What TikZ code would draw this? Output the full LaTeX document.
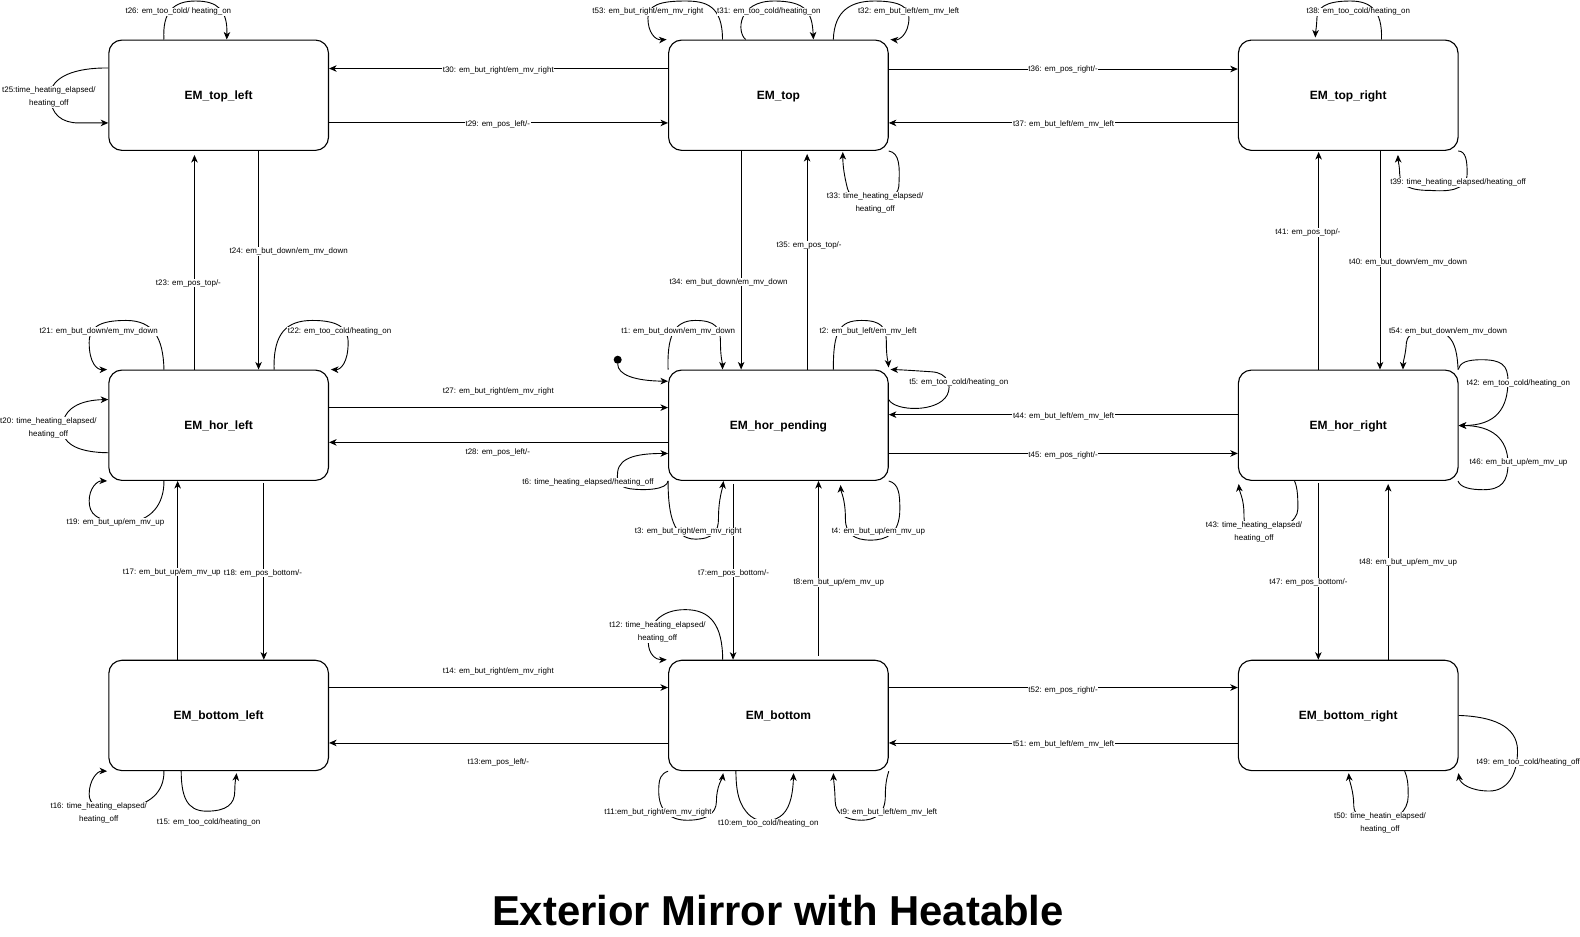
\documentclass[tikz,border=0pt]{standalone}
\usepackage{fontspec}
\setmainfont{Liberation Sans}
\usetikzlibrary{arrows.meta}
\tikzset{
  emstate/.style={draw, line width=1.1pt, rounded corners=13pt, minimum width=218pt, minimum height=109.5pt, inner sep=0pt, text height=8.5pt, text depth=0pt, font=\fontsize{11.9}{14}\selectfont\bfseries},
  edge/.style={line width=0.9pt, -{Stealth[length=7.5pt,width=6.5pt,inset=2.2pt]}},
  lbl/.style={font=\fontsize{7.9}{13}\selectfont, fill=white, inner sep=0.6pt, align=center, yshift=-0.8pt},
}
\begin{document}
\begin{tikzpicture}[x=1pt,y=-1pt]
\useasboundingbox (0,0) rectangle (1568,929);
% states
\node[emstate] (tl) at (217,94.5) {EM\_top\_left};
\node[emstate] (t)  at (772.5,94.5) {EM\_top};
\node[emstate] (tr) at (1338,94.5) {EM\_top\_right};
\node[emstate] (hl) at (217,422) {EM\_hor\_left};
\node[emstate] (hp) at (772.5,422) {EM\_hor\_pending};
\node[emstate] (hr) at (1338,422) {EM\_hor\_right};
\node[emstate] (bl) at (217,710) {EM\_bottom\_left};
\node[emstate] (b)  at (772.5,710) {EM\_bottom};
\node[emstate] (br) at (1338,710) {EM\_bottom\_right};
\node[circle, fill, inner sep=0pt, minimum size=8pt] (init) at (613,357) {};

% ---- top left
\draw[edge] (tl.north -| 162.7,0) .. controls (161,12) and (172,1) .. (194,1) .. controls (216,1) and (226,10) .. (tl.north -| 225,0);
\draw[edge] (tl.west |- 0,67.5) .. controls (75,67) and (50,76) .. (50,95) .. controls (50,114) and (62,122) .. (78,122) -- (tl.west |- 0,122);
\draw[edge] (t.west |- 0,68) -- (tl.east |- 0,68);
\draw[edge] (tl.east |- 0,122) -- (t.west |- 0,122);
\draw[edge] (tl.south -| 256.6,0) -- (hl.north -| 256.6,0);
\draw[edge,shorten >=4pt] (hl.north -| 193,0) -- (tl.south -| 193,0);

% ---- top
\draw[edge] (t.north -| 717,0) .. controls (717,5) and (700,1) .. (680,1) .. controls (655,1) and (643,5) .. (643,18) .. controls (643,32) and (650,40) .. (t.north -| 661.5,0);
\draw[edge] (t.north -| 740,0) .. controls (731,32) and (732,1) .. (768,1) .. controls (800,1) and (806,12) .. (t.north -| 807.2,0);
\draw[edge] (t.north -| 827,0) .. controls (828,10) and (845,1) .. (868,1) .. controls (895,1) and (902,8) .. (902,18) .. controls (902,34) and (892,40) .. (t.north -| 883.7,0);
\draw[edge,shorten >=1pt] (t.south -| 882,0) .. controls (893,152) and (893,165) .. (892,185) .. controls (890,205) and (845,205) .. (841,187) .. controls (838,175) and (836.4,165) .. (t.south -| 836.4,0);
\draw[edge] (t.south -| 735.5,0) -- (hp.north -| 735.5,0);
\draw[edge,shorten >=3pt] (hp.north -| 801,0) -- (t.south -| 801,0);
\draw[edge] (t.east |- 0,68.5) -- (tr.west |- 0,68.5);
\draw[edge] (tr.west |- 0,122) -- (t.east |- 0,122);

% ---- top right
\draw[edge,shorten >=2pt] (tr.north -| 1371,0) .. controls (1372,10) and (1360,1) .. (1340,1) .. controls (1315,1) and (1307,8) .. (1306.9,18) .. controls (1306.5,28) and (1305.5,32) .. (tr.north -| 1305.2,0);
\draw[edge,shorten >=4pt] (tr.south -| 1447,0) .. controls (1455,150) and (1456,160) .. (1456,172) .. controls (1456,190) and (1435,190) .. (1420,189) .. controls (1400,189) and (1389,185) .. (1389,172) .. controls (1389,165) and (1387.5,160) .. (tr.south -| 1387.2,0);
\draw[edge] (tr.south -| 1369.5,0) -- (hr.north -| 1369.5,0);
\draw[edge,shorten >=1pt] (hr.north -| 1308.6,0) -- (tr.south -| 1308.6,0);

% ---- hor left
\draw[edge] (hl.north -| 162.7,0) .. controls (162,335) and (152,318) .. (125,318) .. controls (98,318) and (88.5,325) .. (88.5,340) .. controls (88.5,360) and (96,367) .. (hl.north -| 106.3,0);
\draw[edge] (hl.north -| 272,0) .. controls (271,330) and (285,318) .. (310,318) .. controls (335,318) and (345.5,325) .. (345.5,340) .. controls (345.5,360) and (338,367) .. (hl.north -| 328.4,0);
\draw[edge] (hl.west |- 0,449.3) .. controls (80,449) and (62,442) .. (62,425) .. controls (62,405) and (80,397) .. (hl.west |- 0,396.5);
\draw[edge] (hl.south -| 162.7,0) .. controls (163,500) and (150,518) .. (125,518) .. controls (95,518) and (88.5,510) .. (88.5,497) .. controls (88.5,485) and (96,477) .. (hl.south -| 106.3,0);
\draw[edge] (hl.east |- 0,404.5) -- (hp.west |- 0,404.5);
\draw[edge] (hp.west |- 0,439) -- (hl.east |- 0,439);
\draw[edge] (bl.north -| 176.3,0) -- (hl.south -| 176.3,0);
\draw[edge,shorten <=2pt] (hl.south -| 261.8,0) -- (bl.north -| 261.8,0);

% ---- hor pending
\draw[edge] (init) .. controls (613,372) and (630,378) .. (hp.west |- 0,378.3);
\draw[edge] (hp.north -| 663,0) .. controls (662,335) and (668,318) .. (690,318) .. controls (710,318) and (715,325) .. (715,340) .. controls (715,355) and (717,360) .. (hp.north -| 717,0);
\draw[edge,shorten >=2pt] (hp.north -| 827,0) .. controls (827,330) and (832,318) .. (855,318) .. controls (875,318) and (879.6,325) .. (879.6,340) .. controls (879.6,355) and (881.5,360) .. (hp.north -| 882,0);
\draw[edge] (hp.east |- 0,396.7) .. controls (888,408) and (930,410) .. (940,392) .. controls (945,382) and (940,370) .. (925,369) .. controls (910,368) and (895,367) .. (hp.north -| 883.7,0);
\draw[edge] (hr.west |- 0,411.5) -- (hp.east |- 0,411.5);
\draw[edge] (hp.east |- 0,450) -- (hr.west |- 0,450);
\draw[edge] (hp.south -| 663,0) .. controls (662,486) and (640,487) .. (625,485) .. controls (612,483) and (612,475) .. (613,468) .. controls (615,453) and (635,450) .. (hp.west |- 0,450);
\draw[edge] (hp.south -| 663,0) .. controls (663,510) and (668,535) .. (690,535) .. controls (708,535) and (713,527) .. (713,515) .. controls (713,495) and (717,485) .. (hp.south -| 718,0);
\draw[edge,shorten <=3pt] (hp.south -| 727.5,0) -- (b.north -| 727.5,0);
\draw[edge,shorten <=4pt] (b.north -| 812.3,0) -- (hp.south -| 812.3,0);
\draw[edge,shorten >=4pt] (hp.south -| 882,0) .. controls (892,480) and (893,490) .. (893,505) .. controls (893,530) and (880,536) .. (864,536) .. controls (848,536) and (839,530) .. (839,515) .. controls (839,495) and (834.5,488) .. (hp.south -| 834,0);

% ---- hor right
\draw[edge] (hr.north -| 1447,0) .. controls (1446,345) and (1442,328) .. (1420,328) .. controls (1400,328) and (1396,335) .. (1395.7,340) .. controls (1395,352) and (1392.5,358) .. (hr.north -| 1392.3,0);
\draw[edge] (hr.north -| 1447,0) .. controls (1449,360) and (1455,357) .. (1470,357) .. controls (1490,357) and (1496.5,362) .. (1496.5,378) .. controls (1496.5,405) and (1485,422.3) .. (hr.east |- 0,422.3);
\draw[edge] (hr.south -| 1447,0) .. controls (1449,484) and (1460,486) .. (1472,486) .. controls (1490,486) and (1496.5,478) .. (1496.5,460) .. controls (1496.5,435) and (1480,422.3) .. (hr.east |- 0,422.3);
\draw[edge,shorten >=3pt] (hr.south -| 1284.7,0) .. controls (1288,485) and (1288,495) .. (1288,505) .. controls (1288,518) and (1270,528) .. (1245,528) .. controls (1236,528) and (1234.5,520) .. (1234.5,510) .. controls (1234.5,495) and (1230,488) .. (hr.south -| 1229,0);
\draw[edge,shorten <=2pt] (hr.south -| 1308.3,0) -- (br.north -| 1308.3,0);
\draw[edge,shorten >=3pt] (br.north -| 1377.6,0) -- (hr.south -| 1377.6,0);

% ---- bottom
\draw[edge] (bl.east |- 0,682.3) -- (b.west |- 0,682.3);
\draw[edge] (b.west |- 0,737.3) -- (bl.east |- 0,737.3);
\draw[edge] (bl.south -| 162.7,0) .. controls (163,785) and (150,800) .. (120,802) .. controls (95,803) and (88.5,798) .. (88.5,788) .. controls (88.5,775) and (96,765) .. (bl.south -| 106.3,0);
\draw[edge,shorten >=2pt] (bl.south -| 179.8,0) .. controls (180,790) and (185,805) .. (205,805) .. controls (225,805) and (233,798) .. (233,785) .. controls (233,775) and (234.5,770) .. (bl.south -| 235,0);
\draw[edge] (b.north -| 717.2,0) .. controls (717,620) and (705,605) .. (680,605) .. controls (655,605) and (643,620) .. (643.4,638) .. controls (643.5,648) and (650,655) .. (b.north -| 661.6,0);
\draw[edge] (b.east |- 0,682.3) -- (br.west |- 0,682.3);
\draw[edge] (br.west |- 0,737.3) -- (b.east |- 0,737.3);
\draw[edge,shorten >=2pt] (b.south -| 663,0) .. controls (656,768) and (653.7,772) .. (653.7,785) .. controls (653.7,805) and (665,814) .. (682,814) .. controls (700,814) and (711,808) .. (711,795) .. controls (711,780) and (717,772) .. (b.south -| 718,0);
\draw[edge,shorten >=2pt] (b.south -| 730.3,0) .. controls (730.5,785) and (733,800) .. (745,810) .. controls (755,818) and (770,815) .. (777,808) .. controls (785,800) and (787,785) .. (b.south -| 787.6,0);
\draw[edge,shorten >=2pt] (b.south -| 882,0) .. controls (880,772) and (878.6,778) .. (878.6,790) .. controls (878.6,808) and (868,814) .. (855,814) .. controls (840,814) and (829,808) .. (828.8,795) .. controls (828.5,782) and (827.3,775) .. (b.south -| 827,0);
\draw[edge,shorten >=2pt] (br.east |- 0,710) .. controls (1480,711) and (1506,720) .. (1506,745) .. controls (1506,770) and (1495,785) .. (1478,785) .. controls (1460,785) and (1449,778) .. (br.south -| 1447,0);
\draw[edge,shorten >=2pt] (br.south -| 1394,0) .. controls (1397,772) and (1397.5,778) .. (1397.5,790) .. controls (1397.5,805) and (1385,815) .. (1370,815) .. controls (1355,815) and (1343.5,810) .. (1343.5,800) .. controls (1343.5,785) and (1339,775) .. (br.south -| 1338.3,0);

% ---- labels
\node[lbl] (l26) at (177,11) {t26: em\_too\_cold/ heating\_on};
\node[lbl] (l25) at (48.5,95.7) {t25:time\_heating\_elapsed/\\heating\_off};
\node[lbl] (l30) at (494.5,69) {t30: em\_but\_right/em\_mv\_right};
\node[lbl] (l29) at (494,123) {t29: em\_pos\_left/-};
\node[lbl] (l24) at (286.5,249) {t24: em\_but\_down/em\_mv\_down};
\node[lbl] (l23) at (187,280) {t23: em\_pos\_top/-};
\node[lbl] (l53) at (643,11) {t53: em\_but\_right/em\_mv\_right};
\node[lbl] (l31) at (763,11) {t31: em\_too\_cold/heating\_on};
\node[lbl] (l32) at (901.7,11) {t32: em\_but\_left/em\_mv\_left};
\node[lbl] (l33) at (868.5,200.3) {t33: time\_heating\_elapsed/\\heating\_off};
\node[lbl] (l34) at (723,279) {t34: em\_but\_down/em\_mv\_down};
\node[lbl] (l35) at (803,242.4) {t35: em\_pos\_top/-};
\node[lbl] (l36) at (1055,68.5) {t36: em\_pos\_right/-};
\node[lbl] (l37) at (1055.5,123) {t37: em\_but\_left/em\_mv\_left};
\node[lbl] (l38) at (1348,11) {t38: em\_too\_cold/heating\_on};
\node[lbl] (l39) at (1447,180) {t39: time\_heating\_elapsed/heating\_off};
\node[lbl] (l40) at (1397.4,259.7) {t40: em\_but\_down/em\_mv\_down};
\node[lbl] (l41) at (1298,229.8) {t41: em\_pos\_top/-};
\node[lbl] (l21) at (98,328) {t21: em\_but\_down/em\_mv\_down};
\node[lbl] (l22) at (337,328.3) {t22: em\_too\_cold/heating\_on};
\node[lbl] (l20) at (48,423.7) {t20: time\_heating\_elapsed/\\heating\_off};
\node[lbl] (l19) at (114.5,518) {t19: em\_but\_up/em\_mv\_up};
\node[lbl] (l27) at (494.5,388) {t27: em\_but\_right/em\_mv\_right};
\node[lbl] (l28) at (494,448) {t28: em\_pos\_left/-};
\node[lbl] (l17) at (170.5,567) {t17: em\_but\_up/em\_mv\_up};
\node[lbl] (l18) at (261,568) {t18: em\_pos\_bottom/-};
\node[lbl] (l1) at (673,328) {t1: em\_but\_down/em\_mv\_down};
\node[lbl] (l2) at (861.5,328) {t2: em\_but\_left/em\_mv\_left};
\node[lbl] (l5) at (951.5,378.3) {t5: em\_too\_cold/heating\_on};
\node[lbl] (l44) at (1055.5,412) {t44: em\_but\_left/em\_mv\_left};
\node[lbl] (l45) at (1055,451) {t45: em\_pos\_right/-};
\node[lbl] (l6) at (583.6,478) {t6: time\_heating\_elapsed/heating\_off};
\node[lbl] (l3) at (683,527) {t3: em\_but\_right/em\_mv\_right};
\node[lbl] (l4) at (871.7,527) {t4: em\_but\_up/em\_mv\_up};
\node[lbl] (l7) at (728,568) {t7:em\_pos\_bottom/-};
\node[lbl] (l8) at (832.5,577) {t8:em\_but\_up/em\_mv\_up};
\node[lbl] (l54) at (1437,328) {t54: em\_but\_down/em\_mv\_down};
\node[lbl] (l42) at (1506.8,379.3) {t42: em\_too\_cold/heating\_on};
\node[lbl] (l46) at (1507,458.3) {t46: em\_but\_up/em\_mv\_up};
\node[lbl] (l43) at (1244.5,527.5) {t43: time\_heating\_elapsed/\\heating\_off};
\node[lbl] (l47) at (1298.5,577) {t47: em\_pos\_bottom/-};
\node[lbl] (l48) at (1397.5,557) {t48: em\_but\_up/em\_mv\_up};
\node[lbl] (l14) at (494.5,666) {t14: em\_but\_right/em\_mv\_right};
\node[lbl] (l13) at (494.5,756) {t13:em\_pos\_left/-};
\node[lbl] (l16) at (98,806) {t16: time\_heating\_elapsed/\\heating\_off};
\node[lbl] (l15) at (207,815.5) {t15: em\_too\_cold/heating\_on};
\node[lbl] (l12) at (652.5,626.5) {t12: time\_heating\_elapsed/\\heating\_off};
\node[lbl] (l52) at (1055,684) {t52: em\_pos\_right/-};
\node[lbl] (l51) at (1055.5,738) {t51: em\_but\_left/em\_mv\_left};
\node[lbl] (l11) at (653,805.7) {t11:em\_but\_right/em\_mv\_right};
\node[lbl] (l10) at (762.4,816) {t10:em\_too\_cold/heating\_on};
\node[lbl] (l9) at (882,805.7) {t9: em\_but\_left/em\_mv\_left};
\node[lbl] (l49) at (1516.7,756.3) {t49: em\_too\_cold/heating\_off};
\node[lbl] (l50) at (1369.5,815.5) {t50: time\_heatin\_elapsed/\\heating\_off};

% ---- title
\node[font=\fontsize{41.5}{48}\selectfont\bfseries, anchor=base, inner sep=0pt] (title) at (772,918) {Exterior Mirror with Heatable};
\end{tikzpicture}
\end{document}
